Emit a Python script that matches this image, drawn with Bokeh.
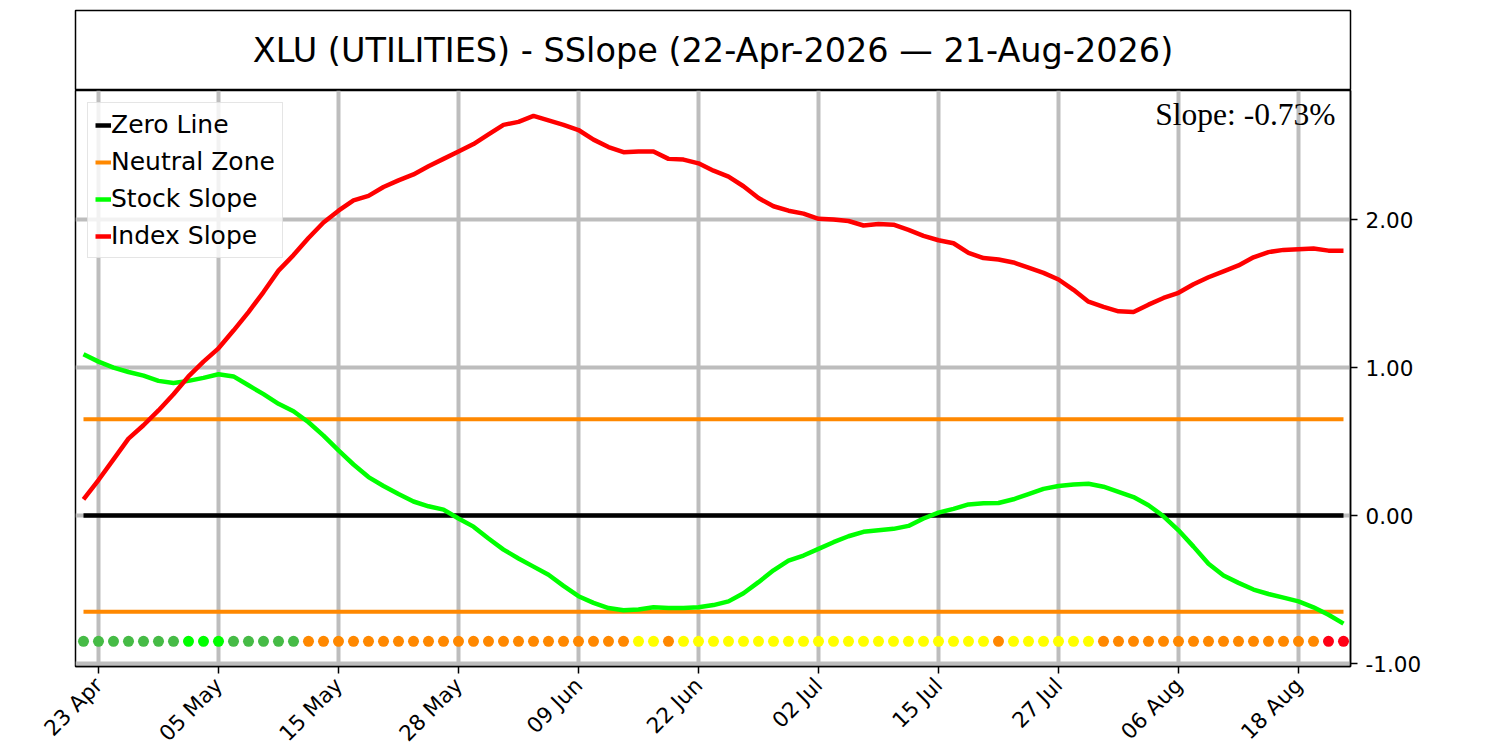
import math
from bokeh.plotting import figure
from bokeh.models import (FixedTicker, Legend, LegendItem, Label, Range1d,
                          NumeralTickFormatter)
from bokeh.layouts import column
from bokeh.embed import file_html
from bokeh.resources import INLINE
from bokeh.core.properties import value

# ---------------- data ----------------
title_text = "XLU (UTILITIES) - SSlope (22-Apr-2026 \u2014 21-Aug-2026)"

stock_slope = [1.09, 1.04, 1.00, 0.97, 0.945, 0.91, 0.895, 0.91, 0.93, 0.955,
               0.94, 0.88, 0.82, 0.755, 0.705, 0.63, 0.54, 0.44, 0.345, 0.26,
               0.20, 0.145, 0.095, 0.0625, 0.04, -0.02, -0.075, -0.155, -0.23, -0.29,
               -0.345, -0.40, -0.475, -0.545, -0.59, -0.625, -0.64, -0.635, -0.62, -0.625,
               -0.625, -0.62, -0.605, -0.58, -0.525, -0.45, -0.37, -0.305, -0.27, -0.225,
               -0.18, -0.14, -0.11, -0.10, -0.09, -0.07, -0.02, 0.02, 0.045, 0.075,
               0.0825, 0.085, 0.11, 0.145, 0.18, 0.20, 0.21, 0.215, 0.195, 0.16,
               0.125, 0.07, -0.005, -0.10, -0.21, -0.325, -0.405, -0.455, -0.50, -0.53,
               -0.555, -0.58, -0.62, -0.67, -0.73]

index_slope = [0.11, 0.24, 0.38, 0.52, 0.61, 0.71, 0.82, 0.94, 1.04, 1.13,
               1.25, 1.375, 1.51, 1.655, 1.76, 1.875, 1.98, 2.06, 2.13, 2.16,
               2.22, 2.265, 2.305, 2.36, 2.41, 2.46, 2.51, 2.575, 2.64, 2.66,
               2.70, 2.67, 2.64, 2.605, 2.54, 2.49, 2.455, 2.46, 2.46, 2.41,
               2.405, 2.38, 2.33, 2.29, 2.225, 2.145, 2.09, 2.06, 2.04, 2.005,
               2.00, 1.99, 1.96, 1.97, 1.965, 1.93, 1.89, 1.86, 1.84, 1.775,
               1.74, 1.73, 1.71, 1.675, 1.64, 1.595, 1.525, 1.445, 1.41, 1.38,
               1.375, 1.425, 1.47, 1.505, 1.5625, 1.61, 1.65, 1.69, 1.745, 1.78,
               1.795, 1.80, 1.805, 1.79, 1.79]

# per-day status dots: G=green, B=bright green, O=orange, Y=yellow, R=red
dot_state = list("GGGGGGGBBBGGGGG" + "O" * 22 + "YY" + "O" + "Y" * 21 + "O"
                 + "Y" * 6 + "O" * 15 + "RR")

tick_positions = [1, 9, 17, 25, 33, 41, 49, 57, 65, 73, 81]
tick_labels = ["23 Apr", "05 May", "15 May", "28 May", "09 Jun", "22 Jun",
               "02 Jul", "15 Jul", "27 Jul", "06 Aug", "18 Aug"]

y_ticks = [-1.0, 0.0, 1.0, 2.0]
zero_level = 0.0
neutral_level = 0.65
dot_level = -0.85

state_colors = {"G": "#46bb46", "B": "#00ff00", "O": "#ff8800",
                "Y": "#ffff00", "R": "#ff0015"}

# ---------------- figures ----------------
FONT = "DejaVu Sans"
n = len(stock_slope)
xs = list(range(n))

tp = figure(frame_width=1275, frame_height=80, min_border_left=75,
            min_border_right=100, min_border_top=10, min_border_bottom=0,
            x_range=Range1d(0, 1), y_range=Range1d(0, 1),
            x_axis_location=None, y_axis_location=None,
            output_backend="svg", toolbar_location=None)
tp.grid.visible = False
tp.outline_line_color = "black"
tp.outline_line_width = 1.5
tp.text(x=[0.5], y=[0.5], text=[title_text], text_align="center",
        text_baseline="middle", text_font=value(FONT), text_font_size="33.5px",
        text_color="black")

p = figure(frame_width=1275, frame_height=576, min_border_left=75,
           min_border_right=100, min_border_top=0, min_border_bottom=10,
           x_range=Range1d(-0.533, 84.467), y_range=Range1d(-1.02, 2.872),
           y_axis_location="right",
           output_backend="svg", toolbar_location=None)
p.outline_line_color = "black"
p.outline_line_width = 1.5

yt = FixedTicker(ticks=y_ticks)
p.yaxis.ticker = yt
p.ygrid.ticker = yt
p.yaxis.formatter = NumeralTickFormatter(format="0.00")
xt = FixedTicker(ticks=tick_positions)
p.xaxis.ticker = xt
p.xgrid.ticker = xt
p.xaxis.major_label_overrides = {t: l for t, l in zip(tick_positions, tick_labels)}
p.xaxis.major_label_orientation = math.pi / 4

for ax in (p.xaxis, p.yaxis):
    ax.major_tick_out = 7
    ax.major_tick_in = 0
    ax.minor_tick_line_color = None
    ax.major_tick_line_width = 1.5
    ax.major_tick_line_color = "black"
    ax.axis_line_color = "black"
    ax.axis_line_width = 1.5
    ax.major_label_text_font = FONT
    ax.major_label_text_font_size = "21.5px"
    ax.major_label_text_color = "black"
    ax.major_label_standoff = 8

p.grid.grid_line_color = "#bdbdbd"
p.grid.grid_line_width = 4

zero_r = p.line(xs, [zero_level] * n, line_color="black", line_width=4.5)
nup_r = p.line(xs, [neutral_level] * n, line_color="#ff8800", line_width=4)
ndn_r = p.line(xs, [-neutral_level] * n, line_color="#ff8800", line_width=4)
stock_r = p.line(xs, stock_slope, line_color="#00ff00", line_width=4.5)
index_r = p.line(xs, index_slope, line_color="#ff0000", line_width=4.5)
p.scatter(xs, [dot_level] * n, size=11, line_color=None,
          fill_color=[state_colors[s] for s in dot_state])

legend = Legend(items=[LegendItem(label="Zero Line", renderers=[zero_r]),
                       LegendItem(label="Neutral Zone", renderers=[nup_r]),
                       LegendItem(label="Stock Slope", renderers=[stock_r]),
                       LegendItem(label="Index Slope", renderers=[index_r])],
                location="top_left", margin=12, padding=7, spacing=8,
                glyph_width=16, glyph_height=24, label_height=24,
                label_standoff=0, label_text_font=FONT,
                label_text_font_size="25px", label_text_color="black",
                border_line_color="#cccccc", border_line_width=1.5,
                background_fill_color="white", background_fill_alpha=0.8)
p.add_layout(legend)

p.add_layout(Label(x=84.467 - 1.0, y=2.872 - 7 / 148,
                   text=f"Slope: {stock_slope[-1]:.2f}%",
                   text_align="right", text_baseline="top",
                   text_font="Liberation Serif", text_font_size="31.5px",
                   text_color="black"))

layout = column(tp, p, spacing=0)
open("out.html", "w").write(file_html(layout, INLINE))
